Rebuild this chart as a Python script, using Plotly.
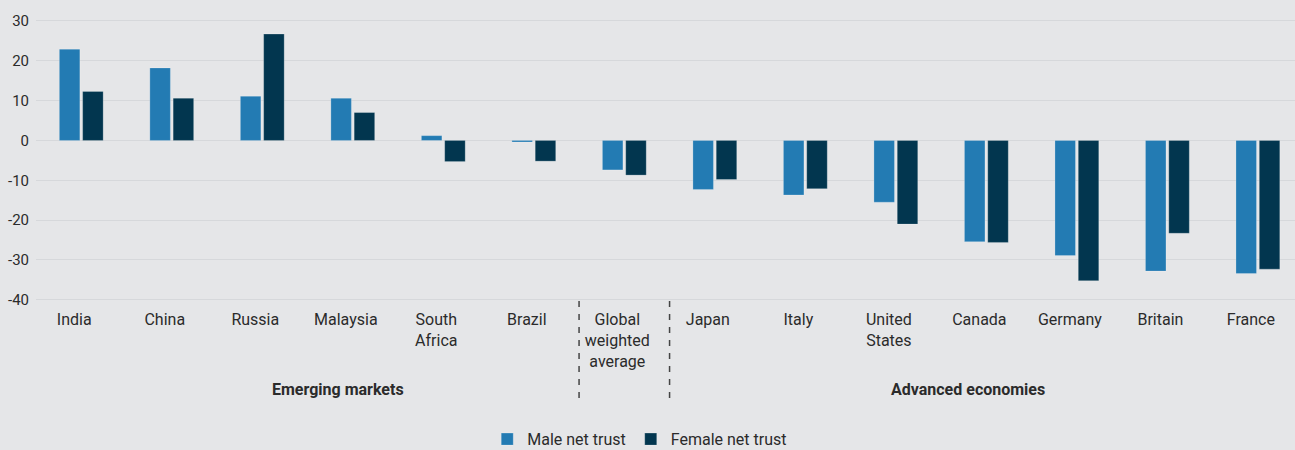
import plotly.graph_objects as go

categories = ["India", "China", "Russia", "Malaysia", "South<br>Africa", "Brazil",
              "Global<br>weighted<br>average", "Japan", "Italy", "United<br>States",
              "Canada", "Germany", "Britain", "France"]
male_net_trust = [22.9, 18.2, 11.1, 10.6, 1.2, -0.4, -7.4, -12.3, -13.7, -15.5,
                  -25.4, -28.9, -32.8, -33.4]
female_net_trust = [12.3, 10.6, 26.7, 7.0, -5.3, -5.2, -8.7, -9.8, -12.1, -21.0,
                    -25.6, -35.2, -23.3, -32.3]
y_ticks = [30, 20, 10, 0, -10, -20, -30, -40]
group_labels = ["Emerging markets", "Advanced economies"]

MALE = "#237bb3"
FEMALE = "#02364f"
BG = "#e5e6e8"
GRID = "#d6d8db"
TXT = "#2b2b2b"
FONT = "Roboto, 'Noto Sans', sans-serif"

fig = go.Figure()
fig.add_trace(go.Bar(name="Male net trust", x=categories, y=male_net_trust,
                     marker=dict(color=MALE, line=dict(color="rgba(255,255,255,0.22)", width=1))))
fig.add_trace(go.Bar(name="Female net trust", x=categories, y=female_net_trust,
                     marker=dict(color=FEMALE, line=dict(color="rgba(255,255,255,0.22)", width=1))))

# dashed separators between groups
for xs in (5.5, 6.5):
    fig.add_shape(type="line", xref="x", yref="paper", x0=xs, x1=xs, y0=0, y1=-0.335,
                  line=dict(color="#444444", width=1.5, dash="6px,7px"))

fig.add_annotation(text="<b>" + group_labels[0] + "</b>", xref="paper", yref="paper",
                   x=0.2395, y=-0.293, xanchor="center", yanchor="middle", showarrow=False,
                   font=dict(family=FONT, size=16, color=TXT))
fig.add_annotation(text="<b>" + group_labels[1] + "</b>", xref="paper", yref="paper",
                   x=0.740, y=-0.293, xanchor="center", yanchor="middle", showarrow=False,
                   font=dict(family=FONT, size=16, color=TXT))

fig.update_layout(
    width=1295, height=450,
    margin=dict(l=36, r=0, t=0, b=149),
    paper_bgcolor=BG, plot_bgcolor=BG,
    barmode="group", bargap=0.485, bargroupgap=0.12,
    font=dict(family=FONT, size=16, color=TXT),
    showlegend=True,
    legend=dict(orientation="h", xref="container", yref="container",
                x=0.494, y=0.024, xanchor="center", yanchor="middle",
                font=dict(family=FONT, size=16, color=TXT), bgcolor="rgba(0,0,0,0)"),
    xaxis=dict(type="category", range=[-0.5, 13.41], showgrid=False, zeroline=False,
               showline=False, ticks="", tickangle=0, ticklabelshift=-7,
               ticklabelstandoff=7,
               tickfont=dict(family=FONT, size=16, color=TXT)),
    yaxis=dict(range=[-40.3, 35.25], tickvals=y_ticks, ticktext=[str(v) for v in y_ticks],
               showgrid=True, gridcolor=GRID, gridwidth=1, zeroline=False, showline=False,
               ticks="", ticklabelstandoff=6,
               tickfont=dict(family=FONT, size=15, color=TXT)),
)

fig.write_html("out.html", config={"displayModeBar": False},
               post_script="document.body.style.margin='0';document.body.style.background='%s';" % BG)
